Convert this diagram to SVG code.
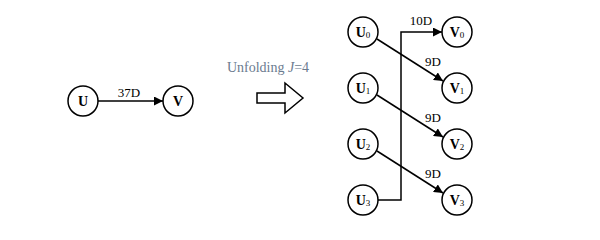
<svg xmlns="http://www.w3.org/2000/svg" width="600" height="240" viewBox="0 0 600 240">
<defs>
<marker id="ah" viewBox="0 0 10 10" refX="10" refY="5" markerWidth="9" markerHeight="9" markerUnits="userSpaceOnUse" orient="auto">
<path d="M0,0 L10,5 L0,10 z" fill="#000"/>
</marker>
<style>
.n{fill:#fff;stroke:#000;stroke-width:1.5}
.t{font-family:"Liberation Serif","Times New Roman",serif;font-weight:bold;font-size:14px;text-anchor:middle;fill:#000}
.s{font-size:9px;font-weight:normal}
.l{font-family:"Liberation Serif","Times New Roman",serif;font-size:13px;text-anchor:middle;fill:#000}
.e{fill:none;stroke:#000;stroke-width:1.5;marker-end:url(#ah)}
</style>
</defs>
<rect width="600" height="240" fill="#fff"/>
<g id="connectors">
<line class="e" x1="98" y1="101" x2="163" y2="101"/>
<polyline class="e" points="378,200 401,200 401,32 442,32"/>
<line class="e" x1="377" y1="39" x2="443" y2="81"/>
<line class="e" x1="377" y1="95" x2="443" y2="137"/>
<line class="e" x1="377" y1="151" x2="443" y2="193"/>
</g>
<g id="labels">
<text class="l" x="129" y="97">37D</text>
<text class="l" x="421" y="25">10D</text>
<text class="l" x="433" y="66">9D</text>
<text class="l" x="433" y="122">9D</text>
<text class="l" x="433" y="178">9D</text>
<text x="268" y="72" font-family="'Liberation Serif',serif" font-size="14" fill="#6b7b8f" text-anchor="middle">Unfolding <tspan font-style="italic">J</tspan>=4</text>
</g>
<g id="block-arrow">
<polygon points="257,93 285,93 285,83 303,98 285,113 285,103 257,103" fill="#fff" stroke="#000" stroke-width="1.5"/>
</g>
<g id="U"><circle class="n" cx="83" cy="101" r="15"/><text class="t" x="83" y="106">U</text></g>
<g id="V"><circle class="n" cx="178" cy="101" r="15"/><text class="t" x="178" y="106">V</text></g>
<g id="U0"><circle class="n" cx="363" cy="32" r="15"/><text class="t" x="363" y="37">U<tspan class="s" dy="1">0</tspan></text></g>
<g id="U1"><circle class="n" cx="363" cy="88" r="15"/><text class="t" x="363" y="93">U<tspan class="s" dy="1">1</tspan></text></g>
<g id="U2"><circle class="n" cx="363" cy="144" r="15"/><text class="t" x="363" y="149">U<tspan class="s" dy="1">2</tspan></text></g>
<g id="U3"><circle class="n" cx="363" cy="200" r="15"/><text class="t" x="363" y="205">U<tspan class="s" dy="1">3</tspan></text></g>
<g id="V0"><circle class="n" cx="457" cy="32" r="15"/><text class="t" x="457" y="37">V<tspan class="s" dy="1">0</tspan></text></g>
<g id="V1"><circle class="n" cx="457" cy="88" r="15"/><text class="t" x="457" y="93">V<tspan class="s" dy="1">1</tspan></text></g>
<g id="V2"><circle class="n" cx="457" cy="144" r="15"/><text class="t" x="457" y="149">V<tspan class="s" dy="1">2</tspan></text></g>
<g id="V3"><circle class="n" cx="457" cy="200" r="15"/><text class="t" x="457" y="205">V<tspan class="s" dy="1">3</tspan></text></g>
</svg>
